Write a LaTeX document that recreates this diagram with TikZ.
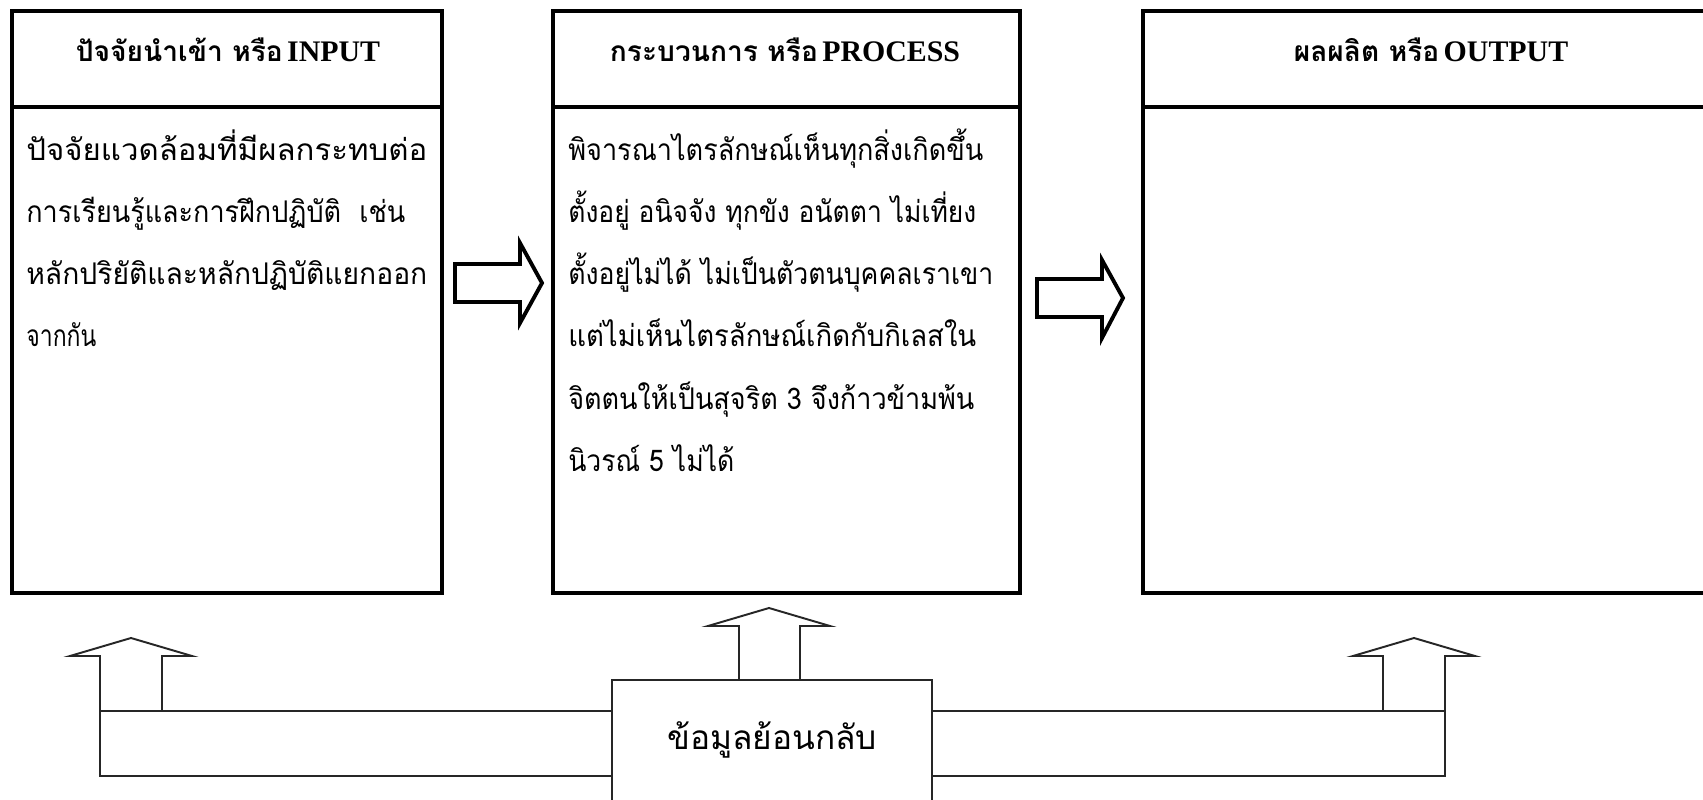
\documentclass[tikz,border=0pt]{standalone}
\usepackage{fontspec}
\usepackage{graphicx}
\setmainfont{Liberation Serif}
\newfontfamily\thai[Script=Thai]{Loma}
\usetikzlibrary{fit}
\newlength\pxu
\setlength\pxu{0.02cm}
\newcommand\fitw[2]{\resizebox{#1\pxu}{\height}{#2}}
\begin{document}
\begin{tikzpicture}[x=0.02cm,y=-0.02cm,
  topbox/.style={draw=black,line width=2.2pt,inner sep=0pt},
  fbbox/.style={draw=black!85,line width=1.1pt,fill=white,inner sep=0pt},
  thinshape/.style={draw=black!85,line width=1.1pt},
  blockarrow/.style={draw=black,line width=2.2pt,line join=miter},
  divider/.style={draw=black,line width=2.2pt},
  bodytext/.style={anchor=base west,inner sep=0pt,font=\thai\fontsize{17}{20}\selectfont},
  hdrtext/.style={anchor=base,inner sep=0pt},
  fbtext/.style={inner sep=0pt,font=\thai\fontsize{19}{22}\selectfont}]
\fill[white] (0,0) rectangle (1703,800);
\useasboundingbox (0,0) rectangle (1703,800);

% top boxes
\node[topbox,fit={(12,11) (442,593)}] (inbox) {};
\node[topbox,fit={(553,11) (1020,593)}] (procbox) {};
\node[topbox,fit={(1143,11) (1720,593)}] (outbox) {};
\draw[divider] (12,107) -- (442,107);
\draw[divider] (553,107) -- (1020,107);
\draw[divider] (1143,107) -- (1720,107);

% headers
\node[hdrtext] (inh) at (228,62) {{\thai\bfseries\fontsize{16}{19}\selectfont ปัจจัยนำเข้า หรือ} {\bfseries\fontsize{17}{20}\selectfont INPUT}};
\node[hdrtext] (proch) at (785,62) {{\thai\bfseries\fontsize{16}{19}\selectfont กระบวนการ หรือ} {\bfseries\fontsize{17}{20}\selectfont PROCESS}};
\node[hdrtext] (outh) at (1431,62) {{\thai\bfseries\fontsize{16}{19}\selectfont ผลผลิต หรือ} {\bfseries\fontsize{17}{20}\selectfont OUTPUT}};

% input text
\node[bodytext] (in1) at (26,161) {\fitw{401}{ปัจจัยแวดล้อมที่มีผลกระทบต่อ}};
\node[bodytext] (in2) at (26,223) {\fitw{379}{การเรียนรู้และการฝึกปฏิบัติ\ \ เช่น}};
\node[bodytext] (in3) at (26,285) {\fitw{401}{หลักปริยัติและหลักปฏิบัติแยกออก}};
\node[bodytext] (in4) at (26,347) {\fitw{70}{จากกัน}};

% process text
\node[bodytext] (p1) at (568,161) {\fitw{415}{พิจารณาไตรลักษณ์เห็นทุกสิ่งเกิดขึ้น}};
\node[bodytext] (p2) at (568,223) {\fitw{408}{ตั้งอยู่ อนิจจัง ทุกขัง อนัตตา ไม่เที่ยง}};
\node[bodytext] (p3) at (568,285) {\fitw{425}{ตั้งอยู่ไม่ได้ ไม่เป็นตัวตนบุคคลเราเขา}};
\node[bodytext] (p4) at (568,347) {\fitw{408}{แต่ไม่เห็นไตรลักษณ์เกิดกับกิเลสใน}};
\node[bodytext] (p5) at (568,409) {\fitw{406}{จิตตนให้เป็นสุจริต 3 จึงก้าวข้ามพ้น}};
\node[bodytext] (p6) at (568,471) {\fitw{166}{นิวรณ์ 5 ไม่ได้}};

% right block arrows
\draw[blockarrow] (455,264) -- (520,264) -- (520,243) -- (542,283) -- (520,323) -- (520,302) -- (455,302) -- cycle;
\draw[blockarrow] (1037,279) -- (1102,279) -- (1102,260) -- (1123,298) -- (1102,338) -- (1102,317) -- (1037,317) -- cycle;

% feedback bars
\draw[thinshape] (100,711) rectangle (612,776);
\draw[thinshape] (932,711) rectangle (1445,776);
\node[fbbox,fit={(612,680) (932,812)}] (fb) {};
\node[fbtext] (fbt) at (772,740) {ข้อมูลย้อนกลับ};

% up arrows
\draw[thinshape,line join=miter] (100,711) -- (100,656) -- (70,656) -- (131,638) -- (192,656) -- (162,656) -- (162,711);
\draw[thinshape,line join=miter] (739,680) -- (739,626) -- (708,626) -- (769,608) -- (830,626) -- (800,626) -- (800,680);
\draw[thinshape,line join=miter] (1383,711) -- (1383,656) -- (1353,656) -- (1414,638) -- (1475,656) -- (1445,656) -- (1445,711);
\end{tikzpicture}
\end{document}
